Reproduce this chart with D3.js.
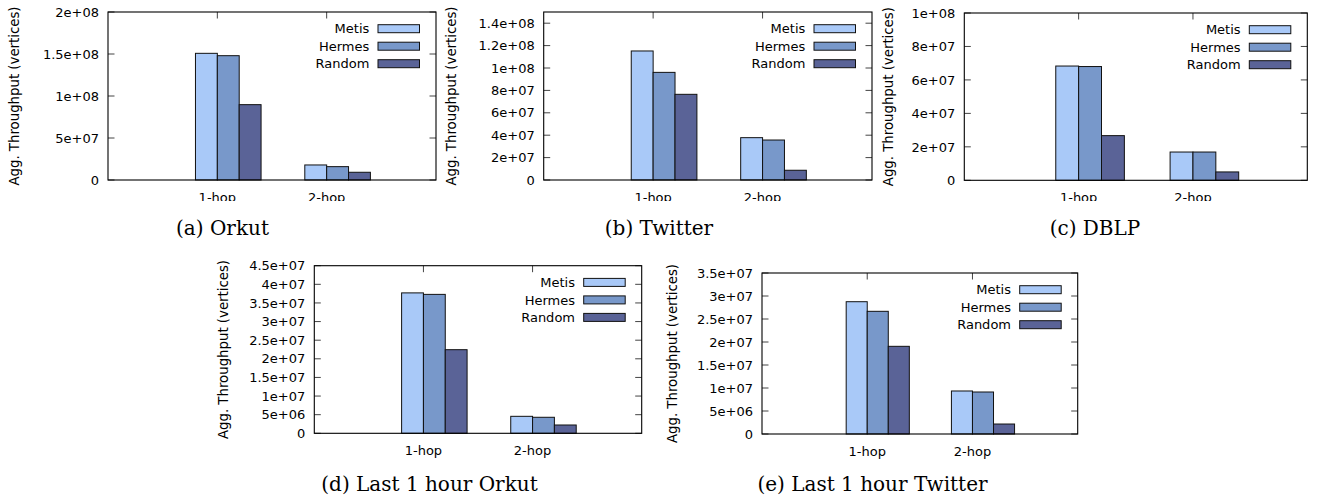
<!DOCTYPE html>
<html lang="en">

<head>
    <meta charset="UTF-8">
    <script src="https://d3js.org/d3.v7.min.js"></script>
    <title>Aggregate throughput</title>
    <style>
        body {
            margin: 0;
            background: white;
        }
        svg {
            display: block;
        }
        .tick-label, .legend-label, .cat-label {
            font-family: "DejaVu Sans", sans-serif;
            font-size: 13px;
            fill: black;
        }
        .y-title {
            font-family: "DejaVu Sans", sans-serif;
            font-size: 13.3px;
            fill: black;
        }
        .caption {
            font-family: "DejaVu Serif", serif;
            font-size: 20px;
            fill: black;
        }
    </style>
</head>

<body>
    <script>
        /*-------------------------------------------------------*/
        /*------------------------ Data -------------------------*/
        /*-------------------------------------------------------*/
        const categories = ["1-hop", "2-hop"]
        const series = ["Metis", "Hermes", "Random"]
        const captions = ["(a) Orkut", "(b) Twitter", "(c) DBLP", "(d) Last 1 hour Orkut", "(e) Last 1 hour Twitter"]
        const yTitle = "Agg. Throughput (vertices)"

        // one row per category, one value per series (Metis, Hermes, Random)
        const orkut = [[1.508e8, 1.48e8, 0.897e8], [1.79e7, 1.59e7, 0.92e7]]
        const twitter = [[1.152e8, 0.961e8, 0.765e8], [3.78e7, 3.57e7, 0.87e7]]
        const dblp = [[6.83e7, 6.8e7, 2.67e7], [1.69e7, 1.69e7, 0.5e7]]
        const orkutHour = [[3.77e7, 3.73e7, 2.245e7], [4.56e6, 4.3e6, 2.23e6]]
        const twitterHour = [[2.876e7, 2.667e7, 1.906e7], [9.35e6, 9.13e6, 2.17e6]]

        // y ranges and tick values
        const yMax = [2e8, 1.5e8, 1e8, 4.5e7, 3.5e7]
        const orkutTicks = [0, 5e7, 1e8, 1.5e8, 2e8]
        const twitterTicks = [0, 2e7, 4e7, 6e7, 8e7, 1e8, 1.2e8, 1.4e8]
        const dblpTicks = [0, 2e7, 4e7, 6e7, 8e7, 1e8]
        const orkutHourTicks = [0, 5e6, 1e7, 1.5e7, 2e7, 2.5e7, 3e7, 3.5e7, 4e7, 4.5e7]
        const twitterHourTicks = [0, 5e6, 1e7, 1.5e7, 2e7, 2.5e7, 3e7, 3.5e7]

        const datasets = [orkut, twitter, dblp, orkutHour, twitterHour]
        const tickSets = [orkutTicks, twitterTicks, dblpTicks, orkutHourTicks, twitterHourTicks]

        /*-------------------------------------------------------*/
        /*----------------------- Layout ------------------------*/
        /*-------------------------------------------------------*/
        // frame box, y title x, caption centre and baseline, top row or not
        const layout = [
            { x0: 108, x1: 436, y0: 12, y1: 180, titleX: 18.5, capX: 222.5, capY: 235, top: true },
            { x0: 543.7, x1: 872, y0: 12, y1: 180, titleX: 456, capX: 659, capY: 235, top: true },
            { x0: 964.3, x1: 1307.3, y0: 13, y1: 180.3, titleX: 893, capX: 1095, capY: 235, top: true },
            { x0: 314.3, x1: 641.7, y0: 265.7, y1: 433.3, titleX: 228, capX: 429.5, capY: 490.5, top: false },
            { x0: 762, x1: 1077.7, y0: 273, y1: 434, titleX: 676.5, capX: 872.5, capY: 490.5, top: false }
        ]

        const colors = d3.scaleOrdinal()
            .domain(series)
            .range(["#a9c9f8", "#7898ca", "#5a6397"])

        const barWidth = 0.2 // in category units
        const tickLen = 6.5

        // gnuplot style exponent: 1.5e+08
        const fmt = v => v === 0 ? "0" : v.toExponential().replace(/e\+(\d)$/, "e+0$1")

        let svg = d3.select("body").append("svg")
            .attr("width", 1322)
            .attr("height", 499)

        // the top row of subfigures is cut just under the category labels
        svg.append("defs").append("clipPath")
            .attr("id", "topclip")
            .append("rect")
            .attr("x", 0).attr("y", 0)
            .attr("width", 1322).attr("height", 201)

        /*-------------------------------------------------------*/
        /*----------------------- Panels ------------------------*/
        /*-------------------------------------------------------*/
        layout.forEach((L, p) => {
            const data = datasets[p]
            const g = svg.append("g")
            if (L.top) g.attr("clip-path", "url(#topclip)")

            const x = d3.scaleLinear().domain([-1, 2]).range([L.x0, L.x1])
            const y = d3.scaleLinear().domain([0, yMax[p]]).range([L.y1, L.y0])

            // ticks, drawn inward on every side
            const ticks = tickSets[p]
            g.selectAll(".ytick-l").data(ticks).enter().append("line")
                .attr("x1", L.x0).attr("x2", L.x0 + tickLen)
                .attr("y1", d => y(d)).attr("y2", d => y(d))
                .attr("stroke", "#444").attr("stroke-width", 1)
            g.selectAll(".ytick-r").data(ticks).enter().append("line")
                .attr("x1", L.x1).attr("x2", L.x1 - tickLen)
                .attr("y1", d => y(d)).attr("y2", d => y(d))
                .attr("stroke", "#444").attr("stroke-width", 1)
            g.selectAll(".xtick-t").data(categories).enter().append("line")
                .attr("x1", (d, i) => x(i)).attr("x2", (d, i) => x(i))
                .attr("y1", L.y0).attr("y2", L.y0 + tickLen)
                .attr("stroke", "#444").attr("stroke-width", 1)
            g.selectAll(".xtick-b").data(categories).enter().append("line")
                .attr("x1", (d, i) => x(i)).attr("x2", (d, i) => x(i))
                .attr("y1", L.y1).attr("y2", L.y1 - tickLen)
                .attr("stroke", "#444").attr("stroke-width", 1)

            // bars
            data.forEach((vals, c) => {
                g.selectAll(".bar-" + c).data(vals).enter().append("rect")
                    .attr("x", (d, s) => x(c + (s - 1) * barWidth))
                    .attr("width", x(barWidth) - x(0))
                    .attr("y", d => y(d))
                    .attr("height", d => y(0) - y(d))
                    .attr("fill", (d, s) => colors(series[s]))
                    .attr("stroke", "#111")
                    .attr("stroke-width", 1)
            })

            // frame
            g.append("rect")
                .attr("x", L.x0).attr("y", L.y0)
                .attr("width", L.x1 - L.x0).attr("height", L.y1 - L.y0)
                .attr("fill", "none").attr("stroke", "black").attr("stroke-width", 1.1)

            // y tick labels
            g.selectAll(".tick-label").data(ticks).enter().append("text")
                .attr("class", "tick-label")
                .attr("x", L.x0 - 9)
                .attr("y", d => y(d))
                .attr("dy", "0.36em")
                .attr("text-anchor", "end")
                .text(d => fmt(d))

            // category labels
            g.selectAll(".cat-label").data(categories).enter().append("text")
                .attr("class", "cat-label")
                .attr("x", (d, i) => x(i))
                .attr("y", L.y1 + 22)
                .attr("text-anchor", "middle")
                .text(d => d)

            // y title
            g.append("text")
                .attr("class", "y-title")
                .attr("transform", "translate(" + L.titleX + "," + ((L.y0 + L.y1) / 2) + ") rotate(-90)")
                .attr("text-anchor", "middle")
                .text(yTitle)

            // legend
            const swR = L.x1 - 16.5, swW = 41.5, swH = 8
            const leg = g.selectAll(".legend").data(series).enter().append("g")
                .attr("transform", (d, i) => "translate(0," + (L.y0 + 16.7 + i * 17.5) + ")")
            leg.append("rect")
                .attr("x", swR - swW).attr("y", -swH / 2)
                .attr("width", swW).attr("height", swH)
                .attr("fill", d => colors(d))
                .attr("stroke", "#111").attr("stroke-width", 1)
            leg.append("text")
                .attr("class", "legend-label")
                .attr("x", swR - swW - 8.7)
                .attr("dy", "0.36em")
                .attr("text-anchor", "end")
                .text(d => d)

            // caption
            svg.append("text")
                .attr("class", "caption")
                .attr("x", L.capX)
                .attr("y", L.capY)
                .attr("text-anchor", "middle")
                .text(captions[p])
        })
    </script>
</body>

</html>
